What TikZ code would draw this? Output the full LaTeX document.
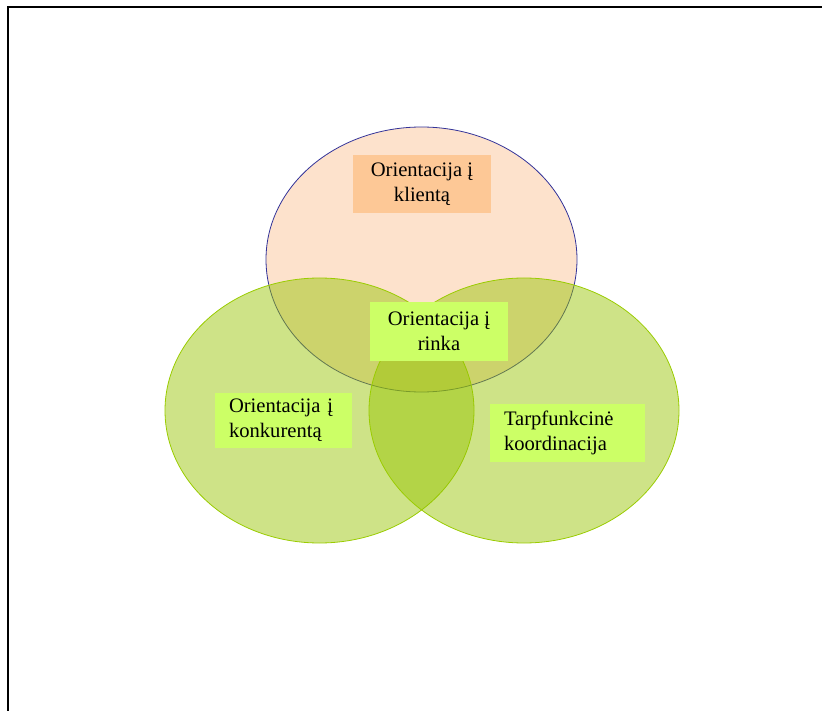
\documentclass[tikz,border=0pt]{standalone}
\usepackage{fontspec}
\setmainfont{Liberation Serif}
\definecolor{peach}{RGB}{253,226,204}
\definecolor{navyline}{RGB}{51,51,153}
\definecolor{leaf}{RGB}{150,196,0}
\definecolor{leafline}{RGB}{154,204,0}
\definecolor{orangebox}{RGB}{253,200,150}
\definecolor{limebox}{RGB}{204,255,102}
\tikzset{
  frameline/.style={line width=1.6pt, black},
  topset/.style={fill=peach, draw=navyline, line width=0.8pt},
  greenset/.style={fill=leaf, fill opacity=0.47, draw=leafline, draw opacity=1, line width=0.8pt},
  labelbox/.style={inner ysep=0pt, font=\fontsize{20.6}{25}\selectfont, text=black},
  centerbox/.style={labelbox, align=center, inner xsep=0pt},
  leftbox/.style={labelbox, align=left, inner xsep=14pt},
}
\begin{document}
\begin{tikzpicture}[x=1pt,y=-1pt]
  \useasboundingbox (0,0) rectangle (822,711);
  % page frame (top and left edges)
  \draw[frameline] (8,712) -- (8,7) -- (823,7);

  % the three sets
  \draw[topset] (421.5,259.5) ellipse [x radius=155.5, y radius=132.5];
  \draw[greenset] (319.5,410.5) ellipse [x radius=154.5, y radius=132.5];
  \draw[greenset] (524,410.5) ellipse [x radius=155, y radius=132.5];

  % labels
  \node[centerbox, fill=orangebox, minimum width=138pt, minimum height=58pt]
    (klientas) at (422,184.5) {Orientacija į\\klientą};
  \node[centerbox, fill=limebox, minimum width=138pt, minimum height=59pt]
    (rinka) at (439,331.5) {Orientacija į\\rinka};
  \node[leftbox, fill=limebox, text width=109pt, minimum height=55pt]
    (konkurentas) at (283.5,420.5) {Orientacija į\\konkurentą};
  \node[leftbox, fill=limebox, text width=127pt, minimum height=58pt]
    (koordinacija) at (567.5,433) {Tarpfunkcinė\\koordinacija};
\end{tikzpicture}
\end{document}
